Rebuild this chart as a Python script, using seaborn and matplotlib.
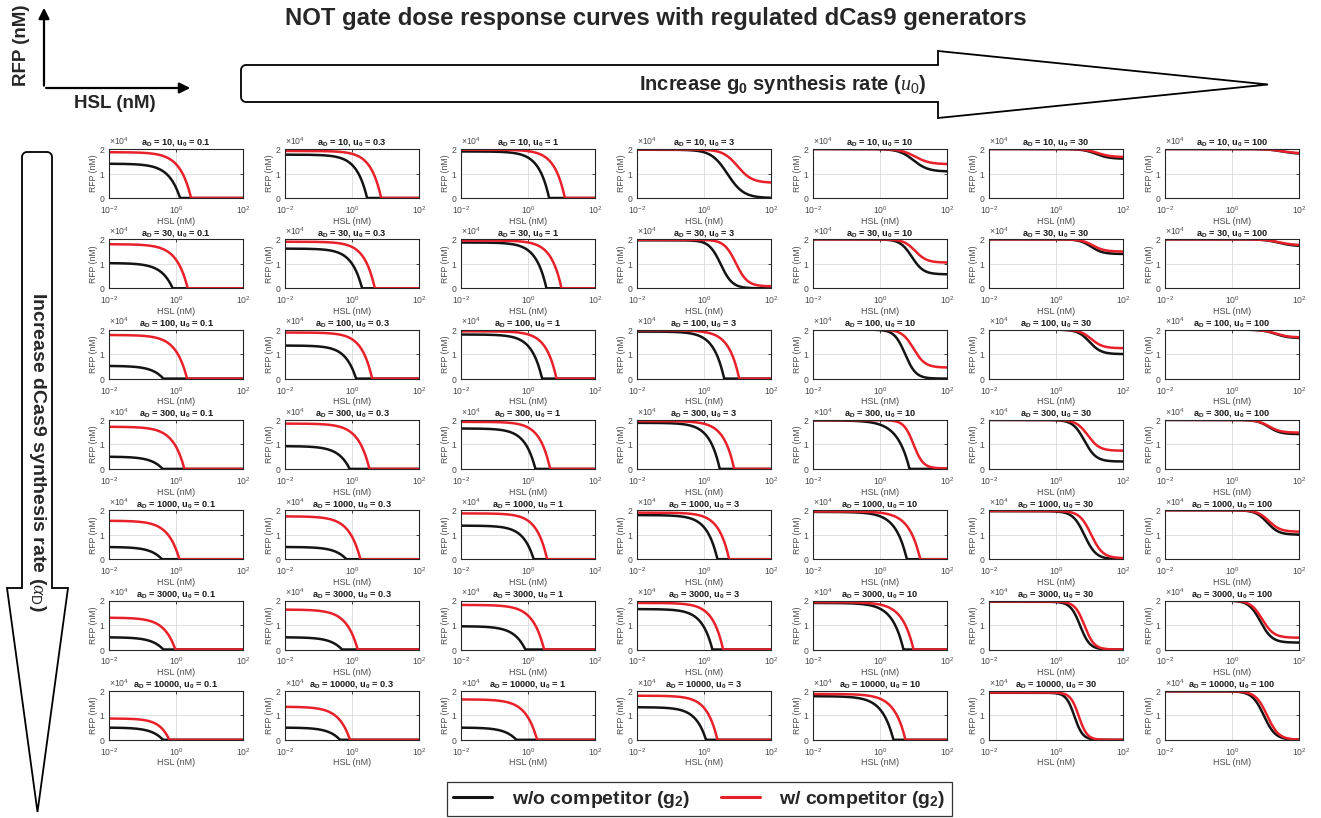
import numpy as np
import pandas as pd
import matplotlib
matplotlib.use("Agg")
import matplotlib.pyplot as plt
import seaborn as sns
from matplotlib.patches import Polygon, FancyArrowPatch
from matplotlib.lines import Line2D
from matplotlib.ticker import ScalarFormatter, FixedLocator, NullLocator, LogFormatterSciNotation

# ---------------- data ----------------
a_D = [10, 30, 100, 300, 1000, 3000, 10000]
u_0 = ["0.1", "0.3", "1", "3", "10", "30", "100"]
series_names = ["w/o competitor", "w/ competitor"]

# plateau at low HSL (nM)
black_high = [[14000, 17700, 19000, 19700, 20000, 20000, 20000],
              [10300, 16200, 18700, 19600, 20000, 20000, 20000],
              [5200, 13500, 18000, 19200, 20000, 20000, 20000],
              [5000, 9300, 16500, 18800, 19800, 20000, 20000],
              [5000, 5000, 13700, 18000, 19300, 19600, 20000],
              [5000, 5000, 9500, 16500, 19000, 19500, 20000],
              [5000, 5000, 5000, 13300, 17800, 19200, 19800]]
red_high = [[18700, 19200, 19700, 19800, 20000, 20000, 20000],
            [18000, 19000, 19500, 19800, 20000, 20000, 20000],
            [17800, 18800, 19300, 19700, 20000, 20000, 20000],
            [17200, 18500, 19200, 19500, 19900, 20000, 20000],
            [15700, 17500, 18700, 19000, 19500, 19700, 20000],
            [13000, 16300, 18200, 19000, 19300, 19600, 20000],
            [8700, 13500, 16500, 18000, 18700, 19300, 19800]]
# plateau at high HSL (nM)
black_low = [[0, 0, 0, 0, 10800, 16000, 18000],
             [0, 0, 0, 0, 5700, 14000, 17200],
             [0, 0, 0, 0, 0, 10000, 16500],
             [0, 0, 0, 0, 0, 3000, 14200],
             [0, 0, 0, 0, 0, 0, 10000],
             [0, 0, 0, 0, 0, 0, 2800],
             [0, 0, 0, 0, 0, 0, 0]]
red_low = [[0, 0, 0, 6200, 13800, 16700, 18200],
           [0, 0, 0, 800, 10500, 15000, 17600],
           [0, 0, 0, 0, 4500, 12400, 16800],
           [0, 0, 0, 0, 200, 7400, 14800],
           [0, 0, 0, 0, 0, 400, 11200],
           [0, 0, 0, 0, 0, 0, 4800],
           [0, 0, 0, 0, 0, 0, 0]]
# log10 of the HSL switching point (nM)
black_logK = [[0.12, 0.45, 0.63, 0.70, 1.00, 1.20, 1.50],
              [-0.10, 0.30, 0.55, 0.50, 0.95, 1.05, 1.40],
              [-0.38, 0.12, 0.42, 0.60, 0.75, 1.00, 1.30],
              [-0.40, -0.07, 0.22, 0.47, 0.88, 0.85, 1.10],
              [-0.42, -0.17, 0.17, 0.40, 0.80, 0.85, 1.05],
              [-0.38, -0.30, -0.08, 0.25, 0.70, 0.72, 0.85],
              [-0.39, -0.36, -0.35, 0.06, 0.40, 0.55, 0.95]]
red_logK = [[0.45, 0.87, 1.10, 1.00, 1.05, 1.25, 1.50],
            [0.35, 0.68, 1.00, 0.95, 1.05, 1.10, 1.40],
            [0.33, 0.60, 0.85, 1.05, 1.00, 1.05, 1.30],
            [0.25, 0.52, 0.66, 0.90, 1.00, 0.95, 1.10],
            [0.10, 0.25, 0.57, 0.75, 1.20, 1.05, 1.10],
            [-0.02, 0.17, 0.48, 0.57, 1.00, 0.85, 0.90],
            [-0.20, -0.06, 0.27, 0.40, 0.76, 0.68, 1.05]]
# steepness
black_n = [[1.3, 1.4, 1.4, 1.8, 2.0, 2.2, 2.0],
           [1.3, 1.4, 1.4, 2.5, 2.5, 2.5, 2.0],
           [1.3, 1.4, 1.4, 1.4, 2.7, 2.5, 2.2],
           [1.3, 1.3, 1.4, 1.4, 1.2, 2.5, 2.5],
           [1.3, 1.3, 1.4, 1.4, 1.3, 2.5, 2.5],
           [1.3, 1.3, 1.3, 1.4, 1.3, 3.0, 2.5],
           [1.3, 1.3, 1.3, 1.4, 1.3, 3.5, 2.5]]
red_n = [[1.3, 1.4, 1.4, 2.0, 2.0, 2.2, 2.0],
         [1.3, 1.4, 1.4, 2.5, 2.5, 2.5, 2.0],
         [1.3, 1.4, 1.4, 1.4, 2.5, 2.5, 2.2],
         [1.3, 1.3, 1.4, 1.4, 3.0, 2.5, 2.5],
         [1.3, 1.3, 1.4, 1.4, 1.3, 2.5, 2.5],
         [1.3, 1.3, 1.3, 1.4, 1.3, 3.0, 2.5],
         [1.5, 1.3, 1.3, 1.4, 1.3, 3.5, 2.5]]
# curve shape: c = sharp threshold, h = smooth switch
black_kind = ["ccchhhh", "ccchhhh", "cccchhh", "ccccchh", "ccccchh", "ccccchh", "ccccchh"]
red_kind = ["ccchhhh", "ccchhhh", "cccchhh", "cccchhh", "ccccchh", "ccccchh", "ccccchh"]

# ---------------- style ----------------
sns.set_theme(style="white")
plt.rcParams["font.family"] = ["Liberation Sans", "DejaVu Sans"]
plt.rcParams["mathtext.fontset"] = "custom"
plt.rcParams["mathtext.rm"] = "Liberation Sans"
plt.rcParams["mathtext.bf"] = "Liberation Sans:bold"
plt.rcParams["mathtext.it"] = "Liberation Serif:italic"

W, H = 1321, 818
fig = plt.figure(figsize=(W / 100, H / 100), dpi=100)
fig.patch.set_facecolor("white")


def fx(x):
    return x / W


def fy(y):
    return 1 - y / H


def response(x, hi, lo, logk, n, kind):
    t = x / 10 ** logk
    if kind == "c":
        f = np.clip(1 - t ** n, 0, 1)
    else:
        f = 1 / (1 + t ** n)
    return lo + (hi - lo) * f


hsl = np.logspace(-2, 2, 600)
palette = {"w/o competitor": "#141414", "w/ competitor": "#e8202a"}
tick_col = "#4a4a4a"

for r in range(7):
    for c in range(7):
        left = 109 + 176 * c
        top = 149 + 90.3 * r
        ax = fig.add_axes([fx(left), fy(top + 49), 134 / W, 49 / H])
        yb = response(hsl, black_high[r][c], black_low[r][c], black_logK[r][c], black_n[r][c], black_kind[r][c])
        yr = response(hsl, red_high[r][c], red_low[r][c], red_logK[r][c], red_n[r][c], red_kind[r][c])
        df = pd.DataFrame({"HSL": np.concatenate([hsl, hsl]),
                           "RFP": np.concatenate([yb, yr]),
                           "series": [series_names[0]] * len(hsl) + [series_names[1]] * len(hsl)})
        sns.lineplot(data=df, x="HSL", y="RFP", hue="series", hue_order=series_names,
                     palette=palette, linewidth=1.8, legend=False, ax=ax,
                     estimator=None, sort=False)
        ax.set_xscale("log")
        ax.set_xlim(1e-2, 1e2)
        ax.set_ylim(0, 2e4)
        ax.xaxis.set_major_locator(FixedLocator([1e-2, 1, 1e2]))
        ax.xaxis.set_major_formatter(LogFormatterSciNotation())
        ax.xaxis.set_minor_locator(NullLocator())
        ax.yaxis.set_major_locator(FixedLocator([0, 1e4, 2e4]))
        fmt = ScalarFormatter(useMathText=True)
        fmt.set_powerlimits((0, 0))
        ax.yaxis.set_major_formatter(fmt)
        ax.yaxis.get_offset_text().set_fontsize(6.2)
        ax.yaxis.get_offset_text().set_color(tick_col)
        ax.grid(True, color="#dcdcdc", lw=0.6)
        for sp in ax.spines.values():
            sp.set_visible(True)
            sp.set_color("#262626")
            sp.set_linewidth(0.8)
        ax.tick_params(direction="in", length=2.5, width=0.6, top=True, right=True,
                       labelsize=6.2, labelcolor=tick_col, color="#262626")
        ax.tick_params(axis="x", pad=4.5)
        ax.tick_params(axis="y", pad=2.5)
        ax.set_xlabel("HSL (nM)", fontsize=6.5, color=tick_col, labelpad=0.5)
        ax.set_ylabel("RFP (nM)", fontsize=6.2, color=tick_col, labelpad=1)
        ax.set_title(r"a$_\mathbf{D}$ = %d, u$_\mathbf{0}$ = %s" % (a_D[r], u_0[c]),
                     fontsize=6.6, fontweight="bold", pad=3, color="#1a1a1a")

# ---------------- annotations ----------------
fig.text(fx(656), fy(18), "NOT gate dose response curves with regulated dCas9 generators",
         ha="center", va="center", fontsize=17.2, fontweight="bold")


def to_fig(pts_px):
    return [(fx(x), fy(y)) for x, y in pts_px]


rad = 5
# horizontal arrow (rounded left end)
arc_bl = [(241 + rad - rad * np.sin(a), 102 - rad + rad * np.cos(a)) for a in np.linspace(0, np.pi / 2, 8)]
arc_tl = [(241 + rad - rad * np.cos(a), 65 + rad - rad * np.sin(a)) for a in np.linspace(0, np.pi / 2, 8)]
harrow = [(938, 65), (938, 51), (1268, 84.5), (938, 118), (938, 102)] + arc_bl + arc_tl
fig.add_artist(Polygon(to_fig(harrow), closed=True, transform=fig.transFigure,
                       facecolor="white", edgecolor="black", lw=1.3))
fig.text(fx(783), fy(85), r"Increase g$_\mathbf{0}$ synthesis rate ($u_0$)",
         ha="center", va="center", fontsize=14.5, fontweight="bold",
         family=["Liberation Sans Narrow", "Liberation Sans", "DejaVu Sans"])

# vertical arrow (rounded top end)
varrow = [(22, 588), (7, 588), (37.5, 812), (68, 588), (52, 588)] + \
         [(52 - rad + rad * np.cos(a), 152 + rad - rad * np.sin(a)) for a in np.linspace(0, np.pi / 2, 8)] + \
         [(22 + rad + rad * np.cos(a), 152 + rad - rad * np.sin(a)) for a in np.linspace(np.pi / 2, np.pi, 8)]
fig.add_artist(Polygon(to_fig(varrow), closed=True, transform=fig.transFigure,
                       facecolor="white", edgecolor="black", lw=1.3))
fig.text(fx(37), fy(452), r"Increase dCas9 synthesis rate ($\alpha_\mathrm{D}$)",
         ha="center", va="center", rotation=-90, fontsize=14, fontweight="bold")

# mini axes key
fig.add_artist(FancyArrowPatch((fx(44), fy(88.5)), (fx(44), fy(5)), transform=fig.transFigure,
                               arrowstyle="-|>", mutation_scale=16, lw=1.6, color="black"))
fig.add_artist(FancyArrowPatch((fx(43.3), fy(88)), (fx(193), fy(88)), transform=fig.transFigure,
                               arrowstyle="-|>", mutation_scale=16, lw=1.6, color="black"))
fig.text(fx(22), fy(45), "RFP (nM)", rotation=90, ha="center", va="center",
         fontsize=13.5, fontweight="bold")
fig.text(fx(115), fy(103), "HSL (nM)", ha="center", va="center",
         fontsize=13.5, fontweight="bold")

# legend
handles = [Line2D([], [], color=palette[s], lw=2.2) for s in series_names]
labels = [r"w/o competitor (g$_\mathbf{2}$)", r"w/ competitor (g$_\mathbf{2}$)"]
leg = fig.legend(handles, labels, loc="center", bbox_to_anchor=(fx(699.5), fy(799)), ncol=2,
                 frameon=True, fancybox=False, edgecolor="black",
                 prop={"weight": "bold", "size": 14}, handlelength=2.0,
                 columnspacing=1.6, borderpad=0.35, handletextpad=1.0)
leg.get_frame().set_linewidth(0.9)

fig.savefig("out.png", dpi=100, facecolor="white")
